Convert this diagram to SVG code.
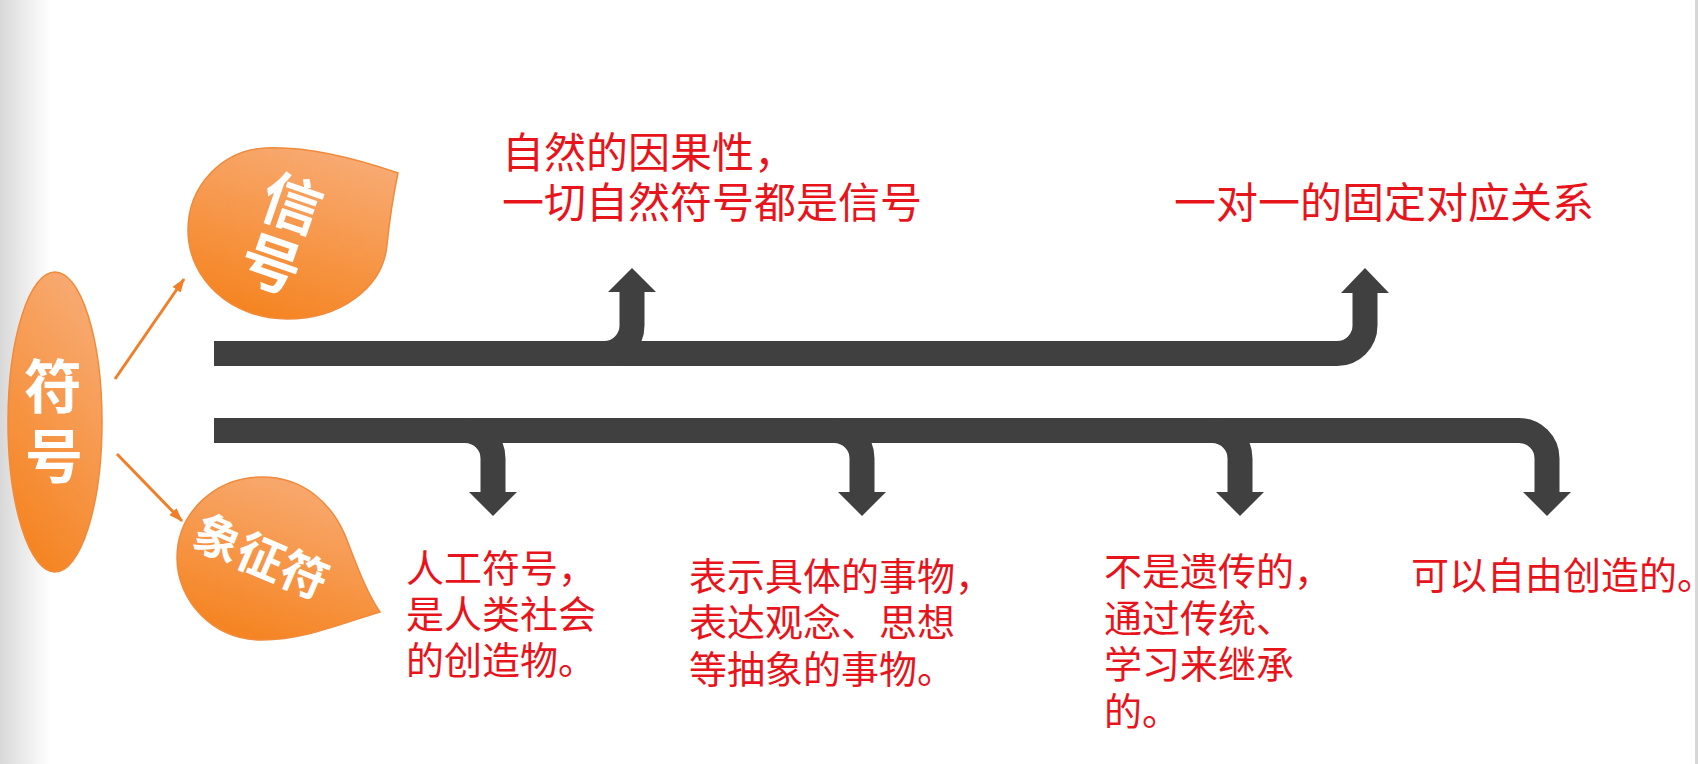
<svg xmlns="http://www.w3.org/2000/svg" width="1700" height="764" viewBox="0 0 1700 764">
<defs>
  <linearGradient id="bgL" x1="0" y1="0" x2="1" y2="0">
    <stop offset="0" stop-color="#d8d8d8"/>
    <stop offset="1" stop-color="#ffffff"/>
  </linearGradient>
  <linearGradient id="og" x1="0.7" y1="0" x2="0.3" y2="1">
    <stop offset="0" stop-color="#f8ab74"/>
    <stop offset="1" stop-color="#f5831f"/>
  </linearGradient>
  <marker id="oa" viewBox="0 0 14 10" refX="13" refY="5" markerWidth="14" markerHeight="10" markerUnits="userSpaceOnUse" orient="auto">
    <path d="M0,0 L14,5 L0,10 z" fill="#f07f2a"/>
  </marker>
</defs>
<style>
  .red{font-family:"Noto Sans CJK SC","Noto Sans CJK JP",sans-serif;fill:#e8141c}
  .t42{font-size:42px}
  .t38{font-size:38px}
  .wh{font-family:"Noto Sans CJK SC","Noto Sans CJK JP",sans-serif;font-weight:700;fill:#ffffff;text-anchor:middle}
  .bar{fill:none;stroke:#404040;stroke-width:25}
  .head{fill:#404040}
  .shape{fill:url(#og);stroke:#f08a3c;stroke-width:1.5}
  .oarr{stroke:#f07f2a;stroke-width:3;fill:none}
</style>
<rect x="0" y="0" width="1700" height="764" fill="#ffffff"/>
<rect x="0" y="0" width="50" height="764" fill="url(#bgL)"/>
<rect x="1695" y="0" width="3" height="764" fill="#d6d6d6"/>

<g id="connectors">
  <line class="oarr" x1="115" y1="379" x2="184" y2="279" marker-end="url(#oa)"/>
  <line class="oarr" x1="117" y1="454" x2="182" y2="521" marker-end="url(#oa)"/>
  <path class="bar" d="M214 353.5 H1337 A28 28 0 0 0 1365 325.5 V292"/>
  <path class="bar" d="M214 353.5 H604 A28 28 0 0 0 632 325.5 V291"/>
  <polygon class="head" points="1341,293 1389,293 1365,268"/>
  <polygon class="head" points="608,292 656,292 632,268"/>
  <path class="bar" d="M214 430.5 H1519 A28 28 0 0 1 1547 458.5 V493"/>
  <path class="bar" d="M214 430.5 H1212 A28 28 0 0 1 1240 458.5 V493"/>
  <path class="bar" d="M214 430.5 H834 A28 28 0 0 1 862 458.5 V493"/>
  <path class="bar" d="M214 430.5 H465 A28 28 0 0 1 493 458.5 V493"/>
  <polygon class="head" points="1523,492 1571,492 1547,516"/>
  <polygon class="head" points="1216,492 1264,492 1240,516"/>
  <polygon class="head" points="838,492 886,492 862,516"/>
  <polygon class="head" points="469,492 517,492 493,516"/>
</g>

<g id="node-fuhao">
  <ellipse class="shape" cx="55" cy="422" rx="47" ry="150"/>
  <text class="wh" x="53" y="408" font-size="58">符</text>
  <text class="wh" x="54" y="478" font-size="58">号</text>
</g>

<g id="node-xinhao">
  <path class="shape" d="M398 173 C360 160 310 146 266 148 C222 150 188 186 188 230 C188 280 232 319 287 319 C340 319 383 288 387 245 C390 215 394 192 398 173 Z"/>
  <g transform="translate(282,233) rotate(19)">
    <text class="wh" x="0" y="-9" font-size="60">信</text>
    <text class="wh" x="0" y="55" font-size="60">号</text>
  </g>
</g>

<g id="node-xiangzhengfu">
  <path class="shape" d="M380 612 C345 622 305 640 262 640 C212 640 177 600 177 558 C177 513 215 477 262 477 C305 477 332 505 345 535 C355 560 365 590 380 612 Z"/>
  <text class="wh" transform="translate(261,557) rotate(23)" x="0" y="17" font-size="47">象征符</text>
</g>

<g id="node-text1">
  <text class="red t42" x="502" y="168">自然的因果性，</text>
  <text class="red t42" x="502" y="218">一切自然符号都是信号</text>
</g>
<g id="node-text2">
  <text class="red t42" x="1174" y="218">一对一的固定对应关系</text>
</g>
<g id="node-text3">
  <text class="red t38" x="406" y="582">人工符号，</text>
  <text class="red t38" x="406" y="628">是人类社会</text>
  <text class="red t38" x="406" y="674">的创造物。</text>
</g>
<g id="node-text4">
  <text class="red t38" x="689" y="590">表示具体的事物，</text>
  <text class="red t38" x="689" y="636">表达观念、思想</text>
  <text class="red t38" x="689" y="683">等抽象的事物。</text>
</g>
<g id="node-text5">
  <text class="red t38" x="1104" y="585">不是遗传的，</text>
  <text class="red t38" x="1104" y="632">通过传统、</text>
  <text class="red t38" x="1104" y="678">学习来继承</text>
  <text class="red t38" x="1104" y="725">的。</text>
</g>
<g id="node-text6">
  <text class="red t38" x="1411" y="589">可以自由创造的。</text>
</g>
</svg>
